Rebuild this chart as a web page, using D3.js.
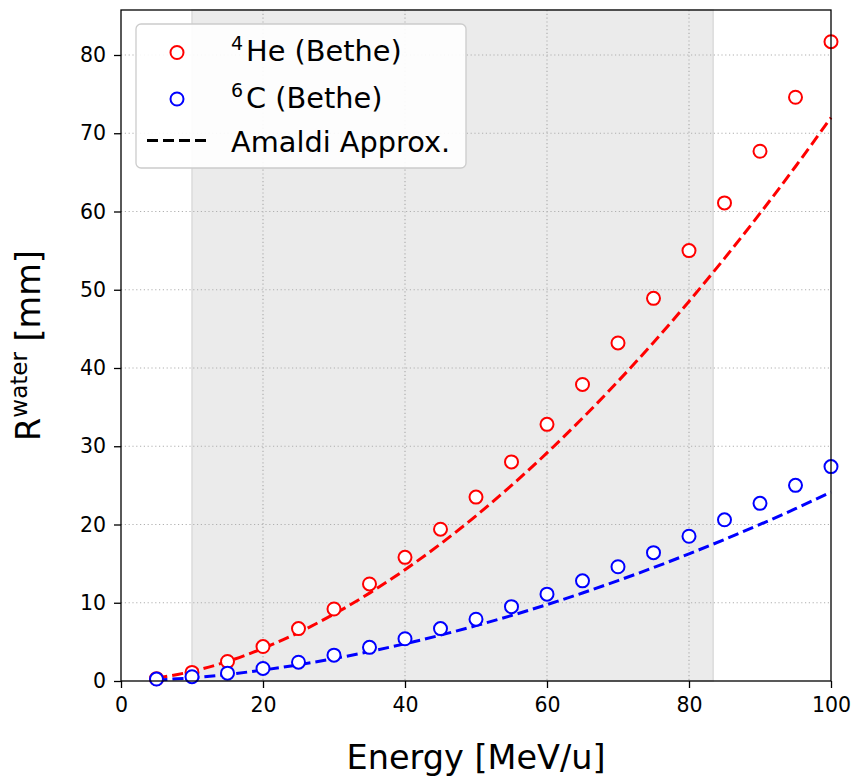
<!DOCTYPE html>
<html>
<head>
<meta charset="utf-8">
<script src="https://cdn.jsdelivr.net/npm/d3@7"></script>
<style>
  html, body { margin: 0; padding: 0; background: #fff; }
  svg { display: block; font-family: "DejaVu Sans", sans-serif; }
</style>
</head>
<body>
<svg id="chart" width="858" height="783"></svg>
<script>
// Beam energies [MeV/u]
const energies = [5, 10, 15, 20, 25, 30, 35, 40, 45, 50, 55, 60, 65, 70, 75, 80, 85, 90, 95, 100];

// Ranges in water from Bethe stopping power [mm]
const heBethe = [0.3, 1.1, 2.5, 4.4, 6.7, 9.2, 12.4, 15.8, 19.4, 23.5, 28.0, 32.8, 37.9, 43.2, 48.9, 55.0, 61.1, 67.7, 74.6, 81.7];
const cBethe  = [0.25, 0.55, 1.0, 1.6, 2.4, 3.3, 4.3, 5.4, 6.7, 7.9, 9.5, 11.1, 12.8, 14.6, 16.4, 18.5, 20.6, 22.7, 25.0, 27.4];

// Amaldi approximation curves [mm]
const heAmaldi = [0.36, 1.22, 2.50, 4.17, 6.19, 8.55, 11.23, 14.22, 17.52, 21.11, 24.99, 29.15, 33.59, 38.30, 43.27, 48.51, 54.01, 59.75, 65.75, 72.0];
const cAmaldi  = [0.12, 0.41, 0.84, 1.40, 2.07, 2.86, 3.76, 4.76, 5.86, 7.07, 8.37, 9.76, 11.25, 12.83, 14.49, 16.25, 18.09, 20.01, 22.02, 24.15];

// Axis ticks and shaded energy window
const xTicks = [0, 20, 40, 60, 80, 100];
const yTicks = [0, 10, 20, 30, 40, 50, 60, 70, 80];
const shadedRange = [10, 83.4];

const svg = d3.select("#chart");
const m = { left: 121, right: 831, top: 10, bottom: 681 };

const x = d3.scaleLinear().domain([0, 100]).range([m.left, m.right]);
const y = d3.scaleLinear().domain([0, 85.75]).range([m.bottom, m.top]);

// Shaded window
svg.append("rect")
  .attr("x", x(shadedRange[0]))
  .attr("y", m.top)
  .attr("width", x(shadedRange[1]) - x(shadedRange[0]))
  .attr("height", m.bottom - m.top)
  .attr("fill", "#ebebeb")
  .attr("stroke", "#dcdcdc")
  .attr("stroke-width", 1.5);

// Grid
const grid = svg.append("g").attr("stroke", "#b0b0b0").attr("stroke-width", 1.2).attr("stroke-dasharray", "1.2,2.6");
grid.selectAll("line.gx").data(xTicks.filter(d => d > 0 && d < 100)).join("line")
  .attr("x1", d => x(d)).attr("x2", d => x(d)).attr("y1", m.top).attr("y2", m.bottom);
grid.selectAll("line.gy").data(yTicks.filter(d => d > 0)).join("line")
  .attr("y1", d => y(d)).attr("y2", d => y(d)).attr("x1", m.left).attr("x2", m.right);

// Amaldi curves
const line = (vals) => d3.line()
  .x((d, i) => x(energies[i]))
  .y(d => y(d))
  .curve(d3.curveCatmullRom)(vals);

svg.append("path").attr("d", line(heAmaldi))
  .attr("fill", "none").attr("stroke", "#ff0000").attr("stroke-width", 3)
  .attr("stroke-dasharray", "11,5");
svg.append("path").attr("d", line(cAmaldi))
  .attr("fill", "none").attr("stroke", "#0000ff").attr("stroke-width", 3)
  .attr("stroke-dasharray", "11,5");

// Bethe points
function markers(vals, color) {
  svg.append("g").selectAll("circle").data(vals).join("circle")
    .attr("cx", (d, i) => x(energies[i]))
    .attr("cy", d => y(d))
    .attr("r", 6.5)
    .attr("fill", "#fff")
    .attr("stroke", color)
    .attr("stroke-width", 2);
}
markers(heBethe, "#ff0000");
markers(cBethe, "#0000ff");

// Frame
svg.append("rect")
  .attr("x", m.left).attr("y", m.top)
  .attr("width", m.right - m.left).attr("height", m.bottom - m.top)
  .attr("fill", "none").attr("stroke", "#000").attr("stroke-width", 1.3);

// Axes
const xAxis = svg.append("g").attr("transform", `translate(0,${m.bottom})`)
  .call(d3.axisBottom(x).tickValues(xTicks).tickSize(7).tickPadding(9).tickFormat(d3.format("d")));
const yAxis = svg.append("g").attr("transform", `translate(${m.left},0)`)
  .call(d3.axisLeft(y).tickValues(yTicks).tickSize(7).tickPadding(8).tickFormat(d3.format("d")));
[xAxis, yAxis].forEach(a => {
  a.select(".domain").remove();
  a.selectAll(".tick line").attr("stroke", "#000").attr("stroke-width", 1.3);
  a.selectAll(".tick text").attr("font-size", 20.5).attr("fill", "#000")
    .attr("font-family", "DejaVu Sans, sans-serif");
});

// Axis labels
svg.append("text")
  .attr("x", (m.left + m.right) / 2).attr("y", 769)
  .attr("text-anchor", "middle").attr("font-size", 33.5)
  .text("Energy [MeV/u]");

const yl = svg.append("text")
  .attr("transform", `translate(40,${(m.top + m.bottom) / 2}) rotate(-90)`)
  .attr("text-anchor", "middle").attr("font-size", 33.5);
yl.append("tspan").text("R");
yl.append("tspan").attr("font-size", 23).attr("dy", -13).text("water");
yl.append("tspan").attr("dy", 13).text(" [mm]");

// Legend
const lg = svg.append("g");
lg.append("rect")
  .attr("x", 136).attr("y", 24).attr("width", 330).attr("height", 144)
  .attr("rx", 5).attr("fill", "#fff").attr("fill-opacity", 0.9)
  .attr("stroke", "#cccccc").attr("stroke-width", 1.3);

const entries = [
  { sup: "4", label: "He (Bethe)", color: "#ff0000", type: "circle" },
  { sup: "6", label: "C (Bethe)", color: "#0000ff", type: "circle" },
  { sup: "", label: "Amaldi Approx.", color: "#000", type: "line" }
];
const baselines = [61, 107.5, 152];
entries.forEach((e, i) => {
  const base = baselines[i];
  if (e.type === "circle") {
    lg.append("circle").attr("cx", 177).attr("cy", base - 8.5).attr("r", 6.5)
      .attr("fill", "#fff").attr("stroke", e.color).attr("stroke-width", 2);
  } else {
    lg.append("line").attr("x1", 147).attr("x2", 207).attr("y1", base - 11.5).attr("y2", base - 11.5)
      .attr("stroke", e.color).attr("stroke-width", 3).attr("stroke-dasharray", "11,5");
  }
  const t = lg.append("text").attr("x", 231).attr("y", base).attr("font-size", 28.8);
  if (e.sup) {
    t.append("tspan").attr("font-size", 19).attr("dy", -11).text(e.sup);
    t.append("tspan").attr("dy", 11).attr("dx", 3).text(e.label);
  } else {
    t.append("tspan").text(e.label);
  }
});
</script>
</body>
</html>
